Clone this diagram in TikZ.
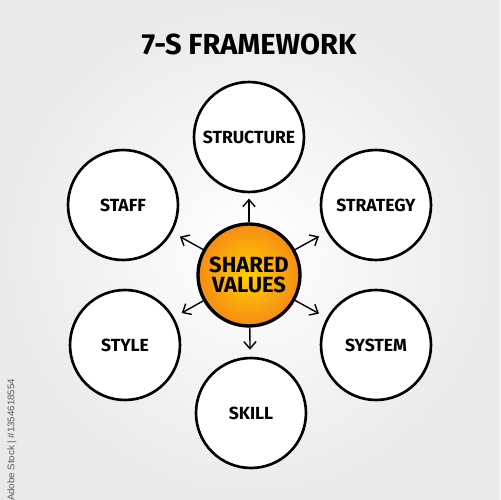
\documentclass[tikz,border=0pt]{standalone}
\usepackage{fontspec}
\setmainfont{Fira Sans}
\newfontfamily\idfont{Liberation Sans}
\usetikzlibrary{arrows.meta}
\definecolor{orIn}{RGB}{255,208,0}
\definecolor{orOut}{RGB}{246,140,20}
\definecolor{bgOut}{RGB}{234,234,234}
\tikzset{
  outer/.style={circle, draw=black, line width=1.5pt, fill=white, minimum size=2.2cm, inner sep=0pt,
    font=\fontsize{10}{11}\selectfont\bfseries},
  core/.style={circle, draw=black, line width=1.9pt, inner color=orIn, outer color=orOut,
    minimum size=2.04cm, inner sep=0pt, align=center, font=\fontsize{12.5}{12}\selectfont\bfseries},
  link/.style={-{Straight Barb[length=4pt,width=7pt,line width=0.8pt]}, line width=0.8pt, shorten >=5pt},
  vlink/.style={link, shorten >=3pt}
}
\begin{document}
\begin{tikzpicture}[x=0.02cm,y=-0.02cm]
\shade[inner color=white, outer color=bgOut] (0,0) rectangle (500,500);
\useasboundingbox (0,0) rectangle (500,500);
\node[font=\fontsize{16.5}{18}\selectfont\bfseries] (title) at (249,44) {7-S FRAMEWORK};
\node[outer] (structure) at (249,137) {STRUCTURE};
\node[outer] (staff) at (123,205) {STAFF};
\node[outer] (strategy) at (376,205) {STRATEGY};
\node[outer] (style) at (125,345) {STYLE};
\node[outer] (system) at (376,345) {SYSTEM};
\node[outer] (skill) at (251,413) {SKILL};
\node[core] (core) at (249,275) {SHARED\\[-0.5pt]VALUES};
\draw[vlink] (core) -- (structure);
\draw[link] (core) -- (staff);
\draw[link] (core) -- (strategy);
\draw[link] (core) -- (style);
\draw[link] (core) -- (system);
\draw[vlink, shorten >=4pt] (core) -- (skill);
\node[rotate=90, text=black!65, font=\idfont\fontsize{5.5}{6}\selectfont] (id) at (12,440) {Adobe Stock | \#1354618554};
\end{tikzpicture}
\end{document}
